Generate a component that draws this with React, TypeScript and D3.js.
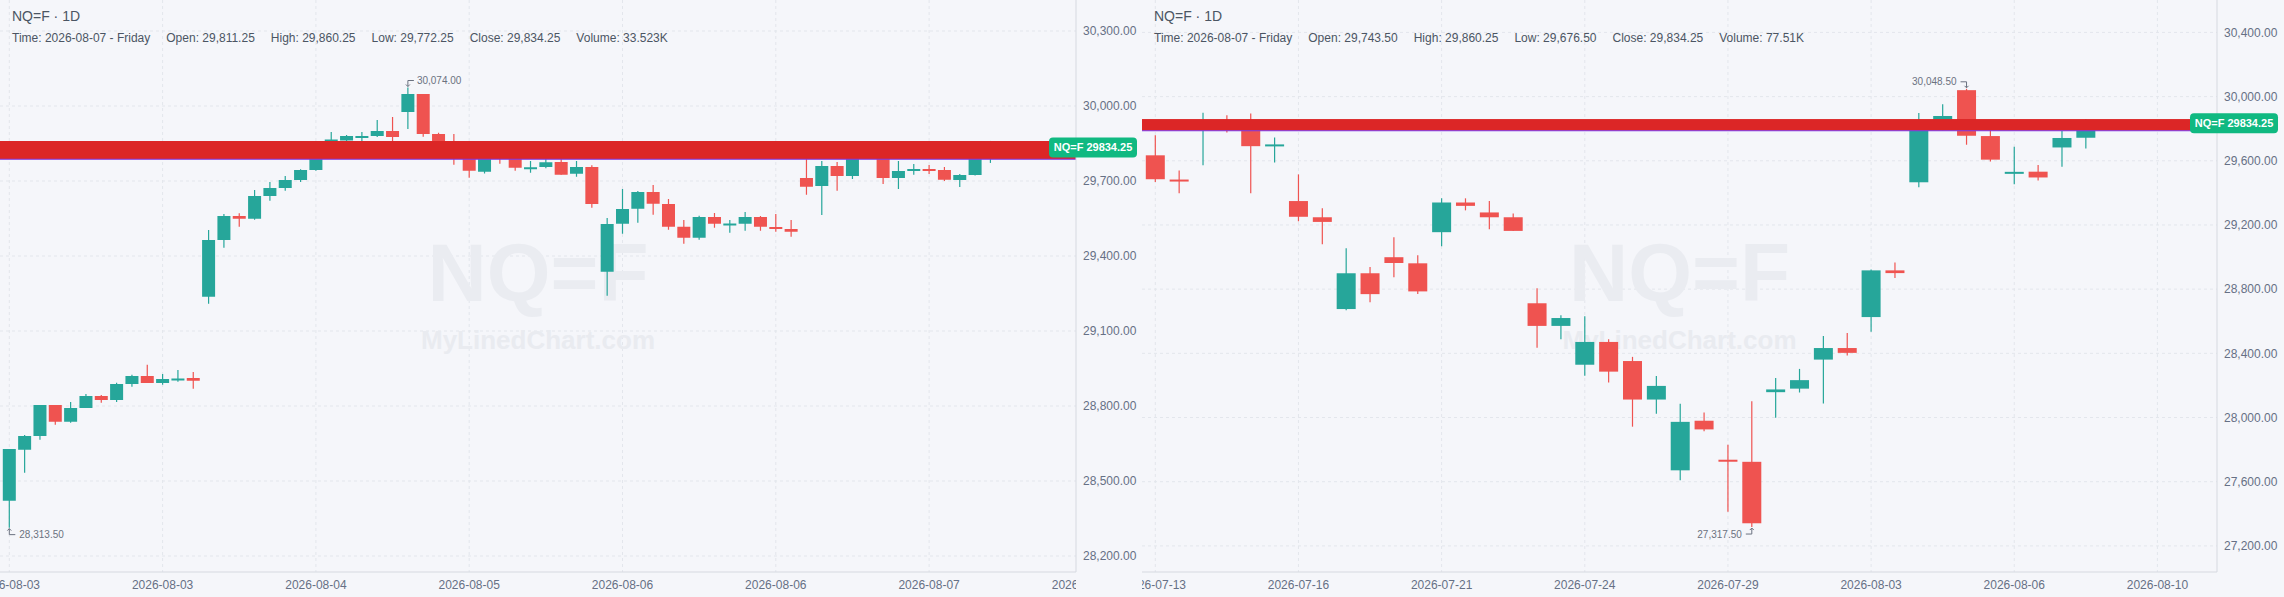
import React from "react";
import * as d3 from "d3";

type Candle = [number, number, number, number]; // open, high, low, close

// 1h-style candles (left panel)
const hourlyCandles: Candle[] = [
  [28421, 28628, 28313.5, 28628],
  [28625, 28684, 28533, 28680],
  [28680, 28804, 28665, 28804],
  [28804, 28804, 28725, 28737],
  [28737, 28816, 28733, 28792],
  [28792, 28848, 28792, 28840],
  [28840, 28844, 28813, 28824],
  [28824, 28893, 28816, 28888],
  [28888, 28925, 28877, 28920],
  [28920, 28965, 28892, 28892],
  [28892, 28928, 28885, 28908],
  [28906, 28944, 28897, 28910],
  [28912, 28936, 28869, 28901],
  [29237, 29504, 29209, 29464],
  [29464, 29568, 29433, 29560],
  [29560, 29571, 29517, 29549],
  [29549, 29664, 29545, 29640],
  [29640, 29696, 29621, 29672],
  [29672, 29720, 29661, 29704],
  [29704, 29747, 29696, 29744],
  [29744, 29840, 29741, 29825],
  [29825, 29896, 29815, 29866],
  [29862, 29884, 29850, 29880],
  [29878, 29896, 29860, 29880],
  [29880, 29944, 29876, 29900],
  [29900, 29956, 29845, 29876],
  [29976, 30074, 29908, 30048],
  [30048, 30048, 29877, 29888],
  [29888, 29893, 29800, 29812],
  [29825, 29888, 29765, 29800],
  [29795, 29860, 29713, 29741],
  [29737, 29815, 29730, 29800],
  [29815, 29830, 29769, 29795],
  [29795, 29815, 29741, 29753],
  [29751, 29780, 29733, 29755],
  [29756, 29790, 29751, 29775],
  [29776, 29790, 29725, 29725],
  [29729, 29780, 29717, 29756],
  [29756, 29763, 29593, 29608],
  [29337, 29552, 29241, 29528],
  [29529, 29668, 29489, 29588],
  [29589, 29660, 29533, 29656],
  [29656, 29684, 29565, 29609],
  [29608, 29628, 29505, 29517],
  [29517, 29544, 29449, 29473],
  [29473, 29561, 29465, 29556],
  [29556, 29572, 29513, 29529],
  [29526, 29544, 29493, 29530],
  [29529, 29576, 29501, 29556],
  [29556, 29560, 29501, 29517],
  [29516, 29568, 29497, 29509],
  [29508, 29544, 29477, 29497],
  [29712, 29790, 29645, 29677],
  [29680, 29780, 29564, 29760],
  [29760, 29776, 29661, 29720],
  [29720, 29820, 29708, 29800],
  [29800, 29835, 29795, 29820],
  [29795, 29815, 29688, 29712],
  [29712, 29780, 29668, 29740],
  [29743, 29768, 29725, 29748],
  [29748, 29764, 29728, 29744],
  [29744, 29756, 29700, 29705],
  [29704, 29728, 29676, 29724],
  [29724, 29820, 29722, 29800],
  [29811.25, 29860.25, 29772.25, 29834.25],
];

// daily candles (right panel)
const dailyCandles: Candle[] = [
  [29634, 29759, 29468, 29485],
  [29483, 29540, 29397, 29474],
  [29800, 29900, 29572, 29840],
  [29850, 29883, 29776, 29810],
  [29800, 29894, 29397, 29691],
  [29693, 29745, 29589, 29702],
  [29349, 29515, 29223, 29251],
  [29248, 29304, 29080, 29219],
  [28676, 29055, 28669, 28899],
  [28899, 28938, 28718, 28769],
  [28999, 29123, 28874, 28963],
  [28961, 29012, 28769, 28786],
  [29155, 29366, 29067, 29340],
  [29340, 29366, 29291, 29319],
  [29278, 29349, 29174, 29248],
  [29248, 29272, 29163, 29163],
  [28712, 28806, 28435, 28571],
  [28571, 28637, 28488, 28620],
  [28329, 28631, 28261, 28471],
  [28471, 28488, 28218, 28286],
  [28352, 28378, 27943, 28112],
  [28112, 28258, 28024, 28197],
  [27671, 28086, 27609, 27973],
  [27980, 28031, 27914, 27926],
  [27737, 27831, 27413, 27728],
  [27724, 28101, 27317.5, 27341],
  [28158, 28246, 27999, 28175],
  [28180, 28303, 28156, 28233],
  [28361, 28508, 28088, 28433],
  [28433, 28527, 28386, 28403],
  [28626, 28922, 28534, 28917],
  [28917, 28966, 28870, 28900],
  [29466, 29898, 29435, 29800],
  [29800, 29953, 29790, 29879],
  [30040, 30048.5, 29700, 29756],
  [29754, 29800, 29596, 29607],
  [29527, 29688, 29454, 29531],
  [29532, 29574, 29477, 29496],
  [29683, 29785, 29562, 29742],
  [29743.5, 29860.25, 29676.5, 29834.25],
];

const hourlyDates = ["2026-08-03", "2026-08-03", "2026-08-04", "2026-08-05", "2026-08-06", "2026-08-06", "2026-08-07", "2026-08-07"];
const dailyDates = ["2026-07-13", "2026-07-16", "2026-07-21", "2026-07-24", "2026-07-29", "2026-08-03", "2026-08-06", "2026-08-10"];

const hourlyPriceTicks = [28200, 28500, 28800, 29100, 29400, 29700, 30000, 30300];
const dailyPriceTicks = [27200, 27600, 28000, 28400, 28800, 29200, 29600, 30000, 30400];

const hourlyHeader = ["Time: 2026-08-07 - Friday", "Open: 29,811.25", "High: 29,860.25", "Low: 29,772.25", "Close: 29,834.25", "Volume: 33.523K"];
const dailyHeader = ["Time: 2026-08-07 - Friday", "Open: 29,743.50", "High: 29,860.25", "Low: 29,676.50", "Close: 29,834.25", "Volume: 77.51K"];

const symbol = "NQ=F";
const lastPrice = 29834.25;
const bandPrices = [29787, 29860];

const UP = "#26a69a";
const DOWN = "#ef5350";
const BG = "#f5f6fa";
const GRID = "#e3e6ec";
const AXIS = "#d6d9e0";
const TEXT = "#4b5563";
const TICK = "#667085";
const FONT = "'Liberation Sans', Arial, Helvetica, sans-serif";

interface PanelProps {
  id: string;
  candles: Candle[];
  dates: string[];
  dateEvery: number;
  priceTicks: number[];
  header: string[];
  x0: number;
  axisX: number;
  firstX: number;
  slot: number;
  bodyW: number;
  yTop: number;
  yBottom: number;
}

const fmt = d3.format(",.2f");

const Panel: React.FC<PanelProps> = ({
  id, candles, dates, dateEvery, priceTicks, header, x0, axisX, firstX, slot, bodyW, yTop, yBottom,
}) => {
  const plotBottom = 572;
  const lastIdx = (dates.length - 1) * dateEvery;
  const x = d3.scaleLinear().domain([0, lastIdx]).range([firstX, firstX + lastIdx * slot]);
  const y = d3
    .scaleLinear()
    .domain([priceTicks[0], priceTicks[priceTicks.length - 1]])
    .range([yBottom, yTop]);

  const hiIdx = d3.maxIndex(candles, (d) => d[1]);
  const loIdx = d3.minIndex(candles, (d) => d[2]);
  const mid = (x0 + axisX) / 2;

  const clipId = `clip-${id}`;
  const hx = x(hiIdx);
  const hy = y(candles[hiIdx][1]) - 7;
  const hiRight = hx < mid;
  const lx = x(loIdx);
  const ly = y(candles[loIdx][2]) + 6;
  const loRight = lx < mid;

  return (
    <g>
      <defs>
        <clipPath id={clipId}>
          <rect x={x0} y={0} width={axisX - x0} height={597} />
        </clipPath>
      </defs>

      {/* grid */}
      <g clipPath={`url(#${clipId})`}>
        {priceTicks.map((t) => (
          <line key={t} x1={x0} x2={axisX} y1={y(t)} y2={y(t)} stroke={GRID} strokeDasharray="3 3" />
        ))}
        {dates.map((_, k) => (
          <line key={k} x1={x(k * dateEvery)} x2={x(k * dateEvery)} y1={0} y2={plotBottom} stroke={GRID} strokeDasharray="3 3" />
        ))}
      </g>

      {/* watermark */}
      <text x={(x0 + axisX) / 2} y={300.5} textAnchor="middle" fontFamily={FONT} fontWeight="bold" fontSize={82} fill="#eaecf1">
        {symbol}
      </text>
      <text x={(x0 + axisX) / 2} y={349} textAnchor="middle" fontFamily={FONT} fontWeight="bold" fontSize={26} fill="#e9ebf0">
        MyLinedChart.com
      </text>

      {/* candles */}
      <g clipPath={`url(#${clipId})`}>
        {candles.map((d, i) => {
          const [o, h, l, c] = d;
          const col = c >= o ? UP : DOWN;
          const cx = x(i);
          const top = y(Math.max(o, c));
          const bh = Math.max(Math.abs(y(o) - y(c)), 2);
          return (
            <g key={i}>
              <line x1={cx} x2={cx} y1={y(h)} y2={y(l)} stroke={col} strokeWidth={1.2} />
              <rect x={cx - bodyW / 2} y={top} width={bodyW} height={bh} fill={col} />
            </g>
          );
        })}
      </g>

      {/* high / low notes */}
      <g fontFamily={FONT} fontSize={10} fill="#6b7280">
        <path
          d={`M${hiRight ? hx + 6 : hx - 6},${hy} H${hx} V${hy + 6} M${hx - 2},${hy + 4} L${hx},${hy + 6} L${hx + 2},${hy + 4}`}
          fill="none"
          stroke="#6b7280"
        />
        <text x={hiRight ? hx + 9 : hx - 10} y={hy} dy="0.35em" textAnchor={hiRight ? "start" : "end"}>
          {fmt(candles[hiIdx][1])}
        </text>
        <path
          d={`M${loRight ? lx + 6 : lx - 6},${ly + 1} H${lx} V${ly - 5} M${lx - 2},${ly - 3} L${lx},${ly - 5} L${lx + 2},${ly - 3}`}
          fill="none"
          stroke="#6b7280"
        />
        <text x={loRight ? lx + 10 : lx - 10} y={ly + 1} dy="0.35em" textAnchor={loRight ? "start" : "end"}>
          {fmt(candles[loIdx][2])}
        </text>
      </g>

      {/* highlight band */}
      <rect x={x0} width={axisX - x0} y={y(bandPrices[1])} height={y(bandPrices[0]) - y(bandPrices[1])} fill="#dc2626" />
      <line x1={x0} x2={axisX} y1={y(bandPrices[0])} y2={y(bandPrices[0])} stroke="#7c3aed" strokeWidth={1.2} />

      {/* axes */}
      <line x1={axisX} x2={axisX} y1={0} y2={plotBottom} stroke={AXIS} />
      <line x1={x0} x2={axisX} y1={plotBottom} y2={plotBottom} stroke={AXIS} />
      <g fontFamily={FONT} fontSize={12} fill={TICK}>
        {priceTicks.map((t) => (
          <text key={t} x={axisX + 7} y={y(t)} dy="0.35em">
            {fmt(t)}
          </text>
        ))}
        <g clipPath={`url(#${clipId})`}>
          {dates.map((s, k) => (
            <text key={k} x={x(k * dateEvery)} y={589} textAnchor="middle">
              {s}
            </text>
          ))}
        </g>
      </g>

      {/* last price tag */}
      <g>
        <rect x={axisX - 27} y={y(lastPrice) - 10} width={88} height={20} rx={4} fill="#10b981" />
        <text
          x={axisX - 27 + 44}
          y={y(lastPrice)}
          dy="0.35em"
          textAnchor="middle"
          fontFamily={FONT}
          fontWeight="bold"
          fontSize={11}
          fill="#ffffff"
        >
          {`${symbol} ${lastPrice}`}
        </text>
      </g>

      {/* header */}
      <text x={x0 + 12} y={21} fontFamily={FONT} fontSize={14} fill={TEXT}>
        {`${symbol} · 1D`}
      </text>
      <text x={x0 + 12} y={42} fontFamily={FONT} fontSize={12} fill={TEXT}>
        {header.map((h, k) => (
          <tspan key={k} dx={k === 0 ? 0 : 16}>
            {h}
          </tspan>
        ))}
      </text>
    </g>
  );
};

export default function App() {
  return (
    <svg
      width={2284}
      height={597}
      style={{ position: "absolute", left: 0, top: 0, display: "block" }}
    >
      <rect width={2284} height={597} fill={BG} />
      <Panel
        id="hourly"
        candles={hourlyCandles}
        dates={hourlyDates}
        dateEvery={10}
        priceTicks={hourlyPriceTicks}
        header={hourlyHeader}
        x0={0}
        axisX={1076}
        firstX={9.3}
        slot={15.33}
        bodyW={13}
        yTop={31}
        yBottom={556}
      />
      <Panel
        id="daily"
        candles={dailyCandles}
        dates={dailyDates}
        dateEvery={6}
        priceTicks={dailyPriceTicks}
        header={dailyHeader}
        x0={1142}
        axisX={2217}
        firstX={1155.3}
        slot={23.86}
        bodyW={19}
        yTop={32.4}
        yBottom={545.9}
      />
    </svg>
  );
}
